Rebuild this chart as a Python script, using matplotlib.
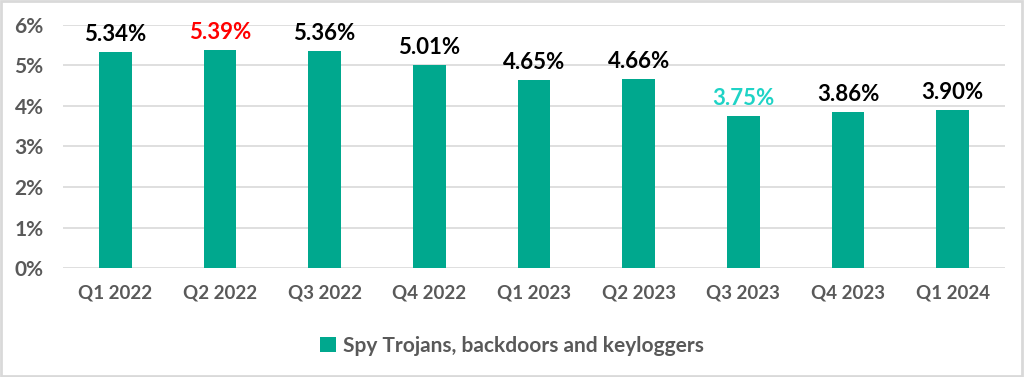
import matplotlib.pyplot as plt
from matplotlib.patches import Rectangle

quarters = ["Q1 2022", "Q2 2022", "Q3 2022", "Q4 2022", "Q1 2023",
            "Q2 2023", "Q3 2023", "Q4 2023", "Q1 2024"]
share = [5.34, 5.39, 5.36, 5.01, 4.65, 4.66, 3.75, 3.86, 3.90]
label_colors = ["black", "#ff0000", "black", "black", "black",
                "black", "#1fd3c6", "black", "black"]
series_name = "Spy Trojans, backdoors and keyloggers"

plt.rcParams['font.family'] = ['Lato', 'DejaVu Sans']

fig = plt.figure(figsize=(10.24, 3.77), dpi=100)
ax = fig.add_axes([0.0615, 0.289, 0.92, 0.645])

x = range(len(quarters))
bars = ax.bar(x, share, width=0.31, color="#00a88e", zorder=3,
              label=series_name)

for b, v, c in zip(bars, share, label_colors):
    ax.annotate(f"{v:.2f}%", (b.get_x() + b.get_width() / 2, v),
                xytext=(0, 5), textcoords="offset points",
                ha="center", va="bottom", fontsize=16, fontweight="bold",
                color=c, clip_on=False, zorder=4)

ax.set_xlim(-0.5, len(quarters) - 0.5)
ax.set_ylim(0, 6)
ax.set_yticks(range(0, 7))
ax.set_yticklabels([f"{i}%" for i in range(0, 7)])
ax.set_xticks(list(x))
ax.set_xticklabels(quarters)
ax.yaxis.grid(True, color="#d9d9d9", lw=1.2, zorder=0)
for s in ax.spines.values():
    s.set_visible(False)
ax.tick_params(axis="both", length=0, labelcolor="#595959")
ax.tick_params(axis="y", pad=14, labelsize=15)
ax.tick_params(axis="x", pad=12, labelsize=13.5)
for t in ax.get_xticklabels() + ax.get_yticklabels():
    t.set_fontweight("bold")

leg = fig.legend(loc="center", bbox_to_anchor=(0.5, 0.082), frameon=False,
                 fontsize=15, handlelength=0.75, handleheight=0.75,
                 handletextpad=0.35)
for t in leg.get_texts():
    t.set_color("#595959")
    t.set_fontweight("bold")

fig.patches.append(Rectangle((0.001, 0.002), 0.997, 0.995, transform=fig.transFigure,
                             fill=False, edgecolor="#d9d9d9", lw=2))

fig.savefig("out.png", dpi=100)
